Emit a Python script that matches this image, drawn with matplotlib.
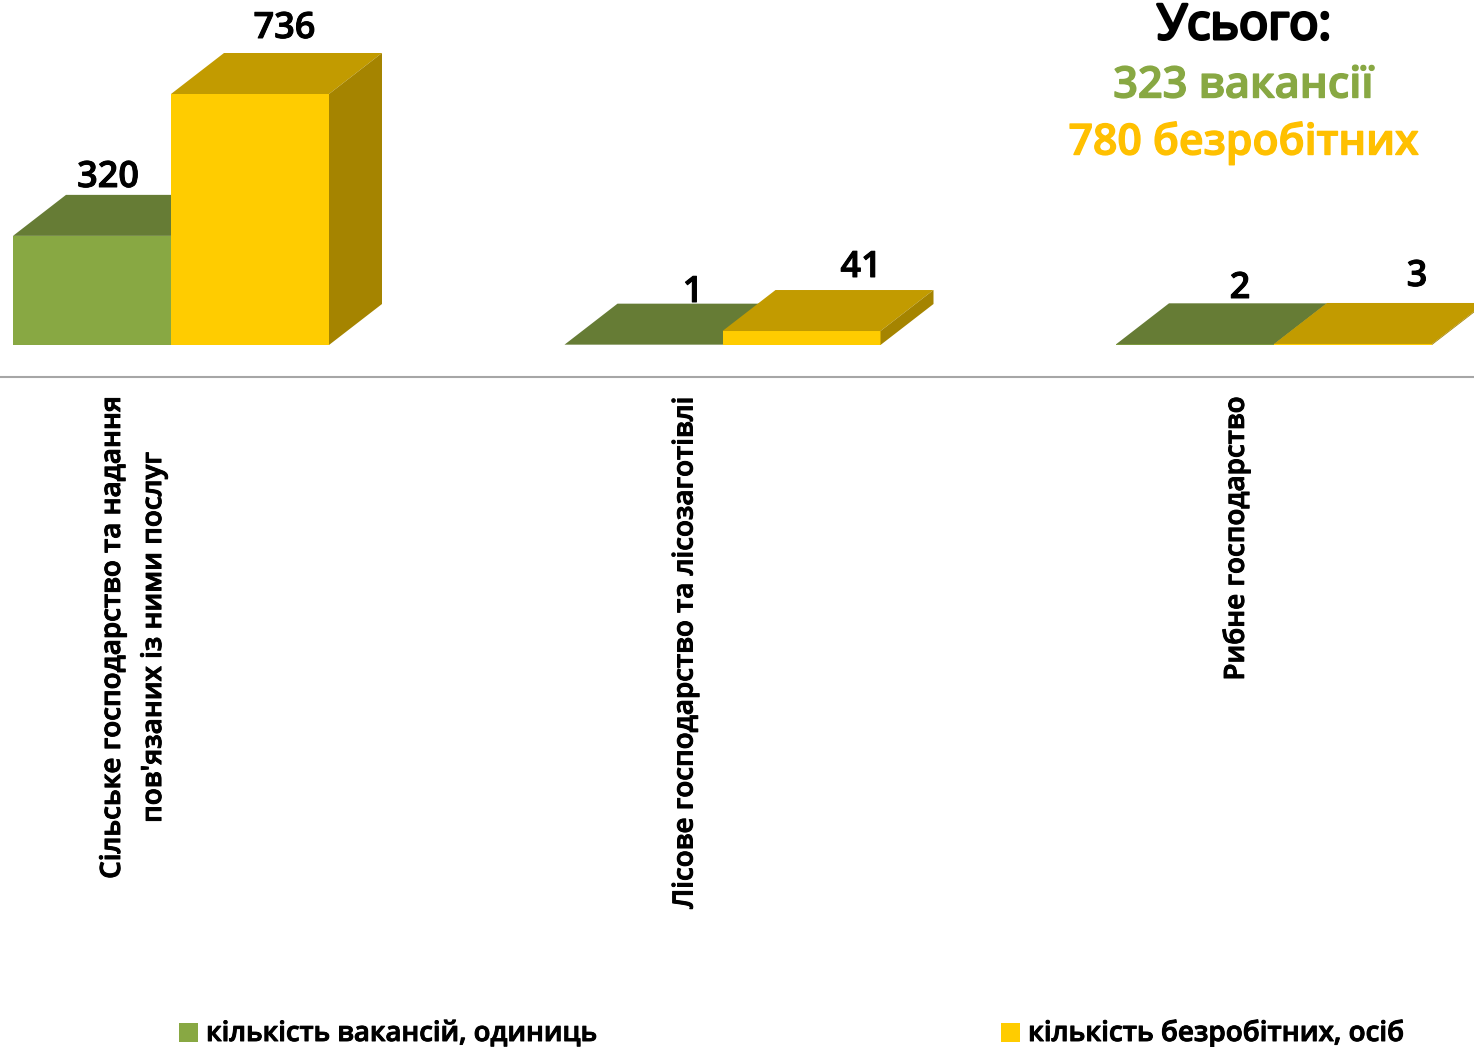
import numpy as np
import matplotlib
matplotlib.use('Agg')
import matplotlib.pyplot as plt
import matplotlib.patheffects as pe

plt.rcParams['font.family'] = ['Open Sans', 'DejaVu Sans']

# Data
categories = ["Сільське господарство та надання\nпов'язаних із ними послуг",
              "Лісове господарство та лісозаготівлі",
              "Рибне господарство"]
vacancies = [320, 1, 2]
unemployed = [736, 41, 3]
series_names = ['кількість вакансій, одиниць', 'кількість безробітних, осіб']
total_title = 'Усього:'
total_vacancies = '323 вакансії'
total_unemployed = '780 безробітних'

# Colours
green = ['#88a843', '#667c35', '#5a6e2e']
yellow = ['#ffcc00', '#c29b00', '#a58400']
total_yellow = '#ffc000'

# Geometry (reference pixels)
W, H = 1474, 1047
base_px = 345
px_x = 551.5      # px per category
px_y = 251 / 736  # px per unit
x0_px = 171       # boundary between the bars of category 0
dx = 53 / px_x
dy = 41 / px_y
bw = 158 / px_x


def bar3d(ax, x, v, cols):
    # front, top, side
    ax.fill([x, x+bw, x+bw, x], [0, 0, v, v], color=cols[0], lw=0)
    ax.fill([x, x+bw, x+bw+dx, x+dx], [v, v, v+dy, v+dy], color=cols[1], lw=0)
    ax.fill([x+bw, x+bw+dx, x+bw+dx, x+bw], [0, dy, v+dy, v], color=cols[2], lw=0)


fig = plt.figure(figsize=(W/100, H/100), dpi=100)
ax = fig.add_axes([0, 0, 1, 1])
ax.set_xlim(-x0_px/px_x, (W-x0_px)/px_x)
ax.set_ylim(-(H-base_px)/px_y, base_px/px_y)
ax.axis('off')


def X(px):
    return (px-x0_px)/px_x


def Y(px):
    return (base_px-px)/px_y


# semibold plus a thin stroke gets close to the reference weight
def heavy(color='black', w=0.7):
    return [pe.withStroke(linewidth=w, foreground=color)]


for i in range(len(categories)):
    bar3d(ax, i-bw, vacancies[i], green)
    bar3d(ax, i, unemployed[i], yellow)

# axis line
ax.plot([X(0), X(W)], [Y(376.5), Y(376.5)], color='#a6a6a6', lw=1.5)

# value labels (x centre, baseline)
lab_green = [(108, 187), (693, 302), (1240, 298)]
lab_yellow = [(284.5, 38), (861, 277), (1417, 286)]
for i in range(3):
    ax.text(X(lab_green[i][0]), Y(lab_green[i][1]), str(vacancies[i]), fontsize=26, fontweight='semibold',
            ha='center', va='baseline', color='black', path_effects=heavy())
    ax.text(X(lab_yellow[i][0]), Y(lab_yellow[i][1]), str(unemployed[i]), fontsize=26, fontweight='semibold',
            ha='center', va='baseline', color='black', path_effects=heavy())

# category labels
lab_x = [133, 685, 1236]
for i in range(3):
    ax.text(X(lab_x[i]), Y(397), categories[i], rotation=90, fontsize=20, fontweight='semibold',
            ha='center', va='top', multialignment='center', linespacing=1.55, color='black',
            path_effects=heavy())

# totals
ax.text(X(1244), Y(39), total_title, fontsize=35, ha='center', va='baseline', color='black',
        path_effects=heavy(w=2.2))
ax.text(X(1243.5), Y(97.5), total_vacancies, fontsize=31.2, fontweight='semibold', ha='center', va='baseline',
        color=green[0], path_effects=heavy(green[0], 1.0))
ax.text(X(1243.5), Y(154.5), total_unemployed, fontsize=30.8, fontweight='semibold', ha='center', va='baseline',
        color=total_yellow, path_effects=heavy(total_yellow, 1.0))

# legend
for sq, tx, name, col, fs in zip([179, 1001], [206, 1028], series_names, [green[0], yellow[0]], [19.8, 20.05]):
    ax.fill([X(sq), X(sq+19), X(sq+19), X(sq)], [Y(1042), Y(1042), Y(1023), Y(1023)], color=col, lw=0)
    ax.text(X(tx), Y(1041), name, fontsize=fs, fontweight='semibold', ha='left', va='baseline', color='black',
            path_effects=heavy())

fig.savefig('out.png', dpi=100)
